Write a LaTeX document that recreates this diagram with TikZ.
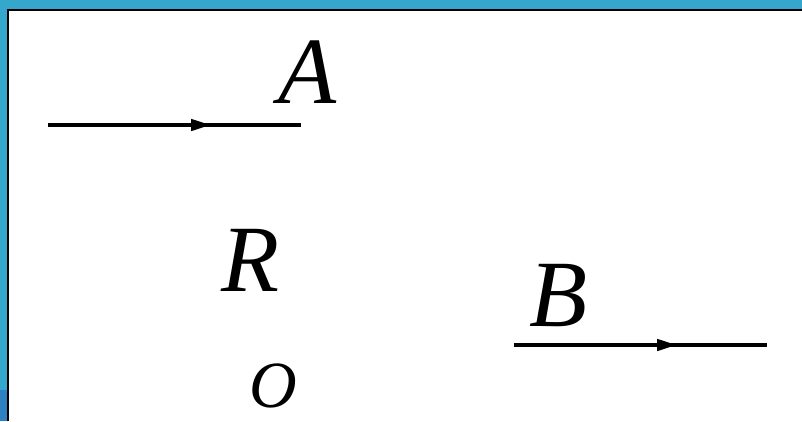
\documentclass[tikz,border=0pt]{standalone}
\usepackage{fontspec}
\setmainfont{Liberation Serif}
\usetikzlibrary{arrows.meta,decorations.markings}
\begin{document}
\begin{tikzpicture}[x=1pt,y=-1pt]
  \definecolor{frameblue}{RGB}{53,166,204}
  \definecolor{framedark}{RGB}{46,128,192}
  \tikzstyle{wire}=[line width=4pt, postaction={decorate}, decoration={markings, mark=at position 0.645 with {\arrow{Triangle[length=20pt,width=11pt]}}}]
  \tikzstyle{lbl}=[font=\fontsize{95}{95}\selectfont\itshape, inner sep=0pt, text depth=0pt, anchor=base west]

  % Rahmen oben und links
  \fill[frameblue] (0,0) rectangle (802,421);
  \fill[framedark] (0,390) rectangle (9,421);
  \fill[black] (7,9) rectangle (802,421);
  \fill[white] (9,11) rectangle (802,421);

  % oberer Strahl mit A
  \coordinate (a1) at (48,125);
  \coordinate (a2) at (301,125);
  \draw[wire] (a1) -- (a2);
  \node[lbl] (A) at (278,103) {A};

  \node[lbl] (R) at (221,291) {R};

  % unterer Strahl mit B
  \coordinate (b1) at (514,345);
  \coordinate (b2) at (767,345);
  \draw[wire] (b1) -- (b2);
  \node[lbl] (B) at (529,326) {B};

  \node[lbl, font=\fontsize{66}{66}\selectfont\itshape] (O) at (249,407) {O};
\end{tikzpicture}
\end{document}
